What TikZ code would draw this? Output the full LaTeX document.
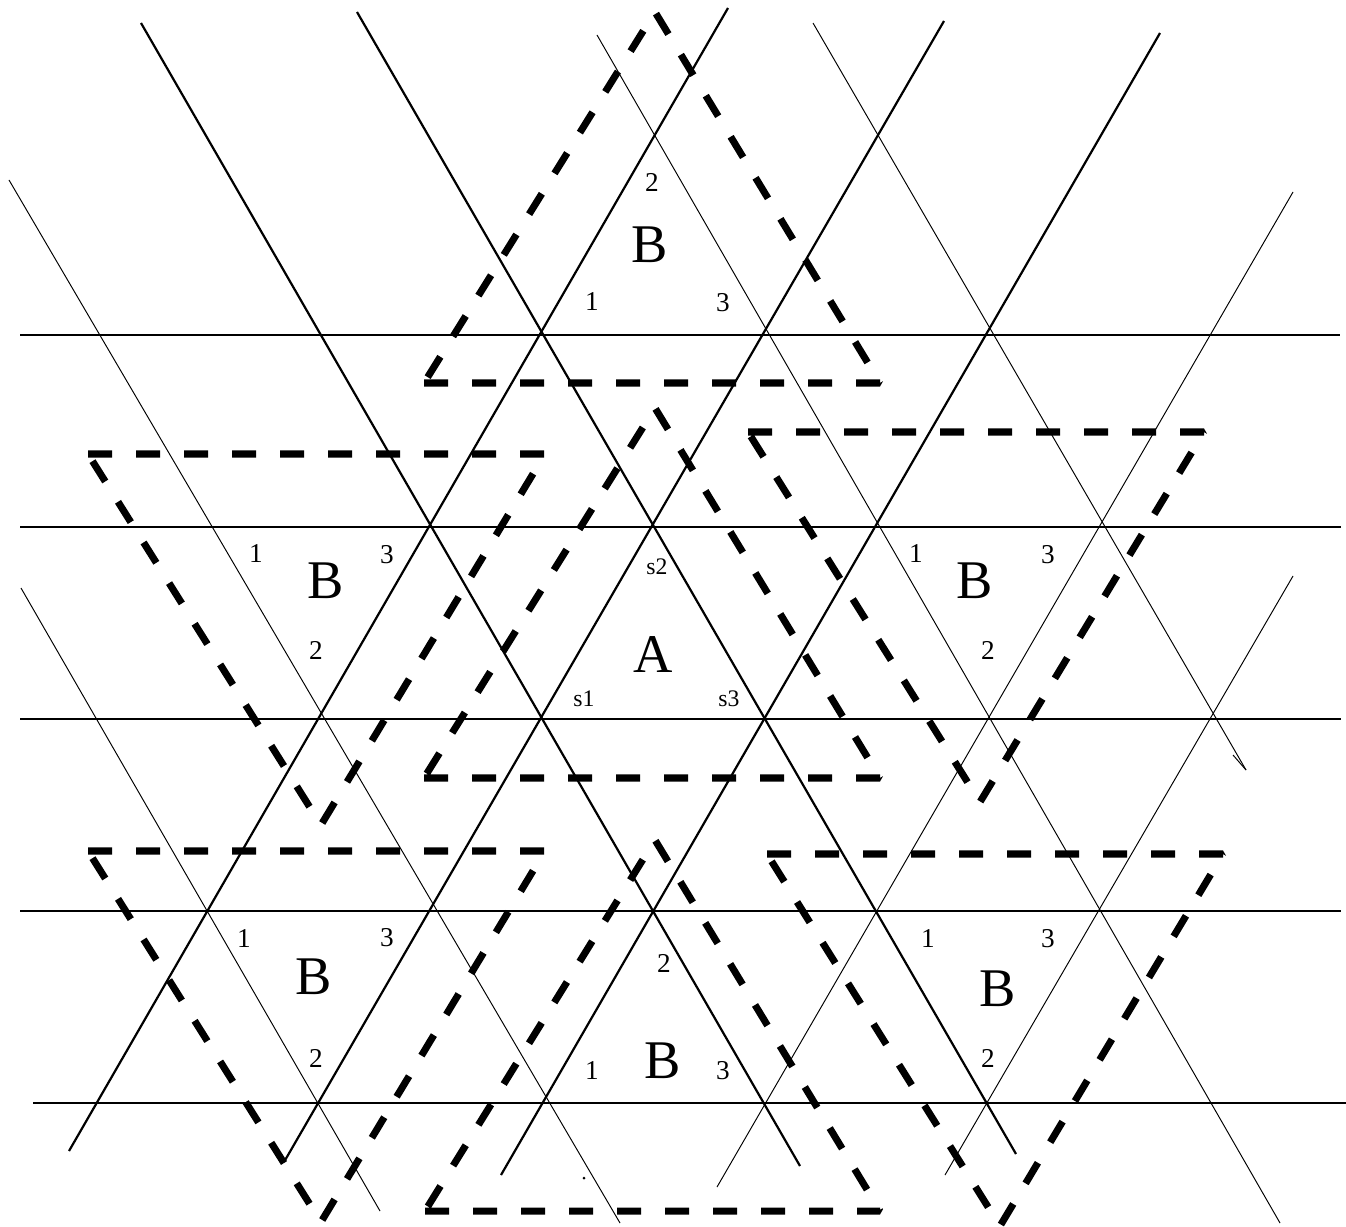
\documentclass[tikz,border=0pt]{standalone}
\usepackage{fontspec}
\setmainfont{Liberation Serif}
\begin{document}
\begin{tikzpicture}[x=0.2mm,y=-0.2mm,
  latthick/.style={line width=1.25pt},
  latthin/.style={line width=0.55pt},
  hline/.style={line width=1.2pt},
  dashtri/.style={line width=4pt, dash pattern=on 4.8mm off 4.8mm, line join=bevel},
  big/.style={font=\fontsize{31}{31}\selectfont, inner sep=0pt},
  num/.style={font=\fontsize{15.5}{15.5}\selectfont, inner sep=0pt},
  slab/.style={font=\fontsize{13.5}{13.5}\selectfont, inner sep=0pt}]
\useasboundingbox (0,0) rectangle (1346,1226);
% horizontal lines
\draw[hline] (20,335) -- (1340,335);
\draw[hline] (20,527) -- (1341,527);
\draw[hline] (20,719) -- (1341,719);
\draw[hline] (20,911) -- (1341,911);
\draw[hline] (33,1103) -- (1346,1103);
% rising lines
\draw[latthick] (69,1151) -- (728,8);
\draw[latthick] (284,1162) -- (944,21);
\draw[latthick] (501,1175) -- (1160,33);
\draw[latthin] (717,1187) -- (1293,192);
\draw[latthin] (945,1175) -- (1293,576);
% falling lines
\draw[latthick] (141,23) -- (800,1166);
\draw[latthick] (357,12) -- (1016,1154);
\draw[latthin] (21,588) -- (380,1211);
\draw[latthin] (9,180) -- (620,1223);
\draw[latthin] (597,35) -- (1280,1223);
\draw[latthin] (813,23) -- (1246,770);
\draw[latthin] (1233,755) -- (1246,770);
\fill (584,1178) circle[radius=1.5];
% dashed triangles
\draw[dashtri] (424,383) -- (880,383) -- (655,12) -- cycle;
\draw[dashtri] (424,778) -- (880,778) -- (655,408) -- cycle;
\draw[dashtri] (425,1211) -- (880,1211) -- (655,840) -- cycle;
\draw[dashtri] (88,454) -- (545,454) -- (321,825) -- cycle;
\draw[dashtri] (748,432) -- (1204,432) -- (980,802) -- cycle;
\draw[dashtri] (88,851) -- (545,851) -- (321,1222) -- cycle;
\draw[dashtri] (767,854) -- (1223,854) -- (1000,1226) -- cycle;
% labels: top B
\node[num] (t2) at (652,182) {2};
\node[big] (tB) at (650,245) {B};
\node[num] (t1) at (592,302) {1};
\node[num] (t3) at (723,303) {3};
% A
\node[slab] (s2) at (657,567) {s2};
\node[big] (A) at (653,655) {A};
\node[slab] (s1) at (584,699) {s1};
\node[slab] (s3) at (729,699) {s3};
% left middle B
\node[num] (lm1) at (256,554) {1};
\node[big] (lmB) at (326,581) {B};
\node[num] (lm3) at (387,555) {3};
\node[num] (lm2) at (316,650) {2};
% right middle B
\node[num] (rm1) at (916,554) {1};
\node[big] (rmB) at (975,581) {B};
\node[num] (rm3) at (1048,555) {3};
\node[num] (rm2) at (988,650) {2};
% bottom left B
\node[num] (bl1) at (244,938) {1};
\node[big] (blB) at (314,977) {B};
\node[num] (bl3) at (387,938) {3};
\node[num] (bl2) at (316,1058) {2};
% bottom centre B
\node[num] (bc2) at (664,963) {2};
\node[big] (bcB) at (663,1061) {B};
\node[num] (bc1) at (592,1070) {1};
\node[num] (bc3) at (723,1071) {3};
% bottom right B
\node[num] (br1) at (928,938) {1};
\node[big] (brB) at (998,989) {B};
\node[num] (br3) at (1048,939) {3};
\node[num] (br2) at (988,1058) {2};
\end{tikzpicture}
\end{document}
